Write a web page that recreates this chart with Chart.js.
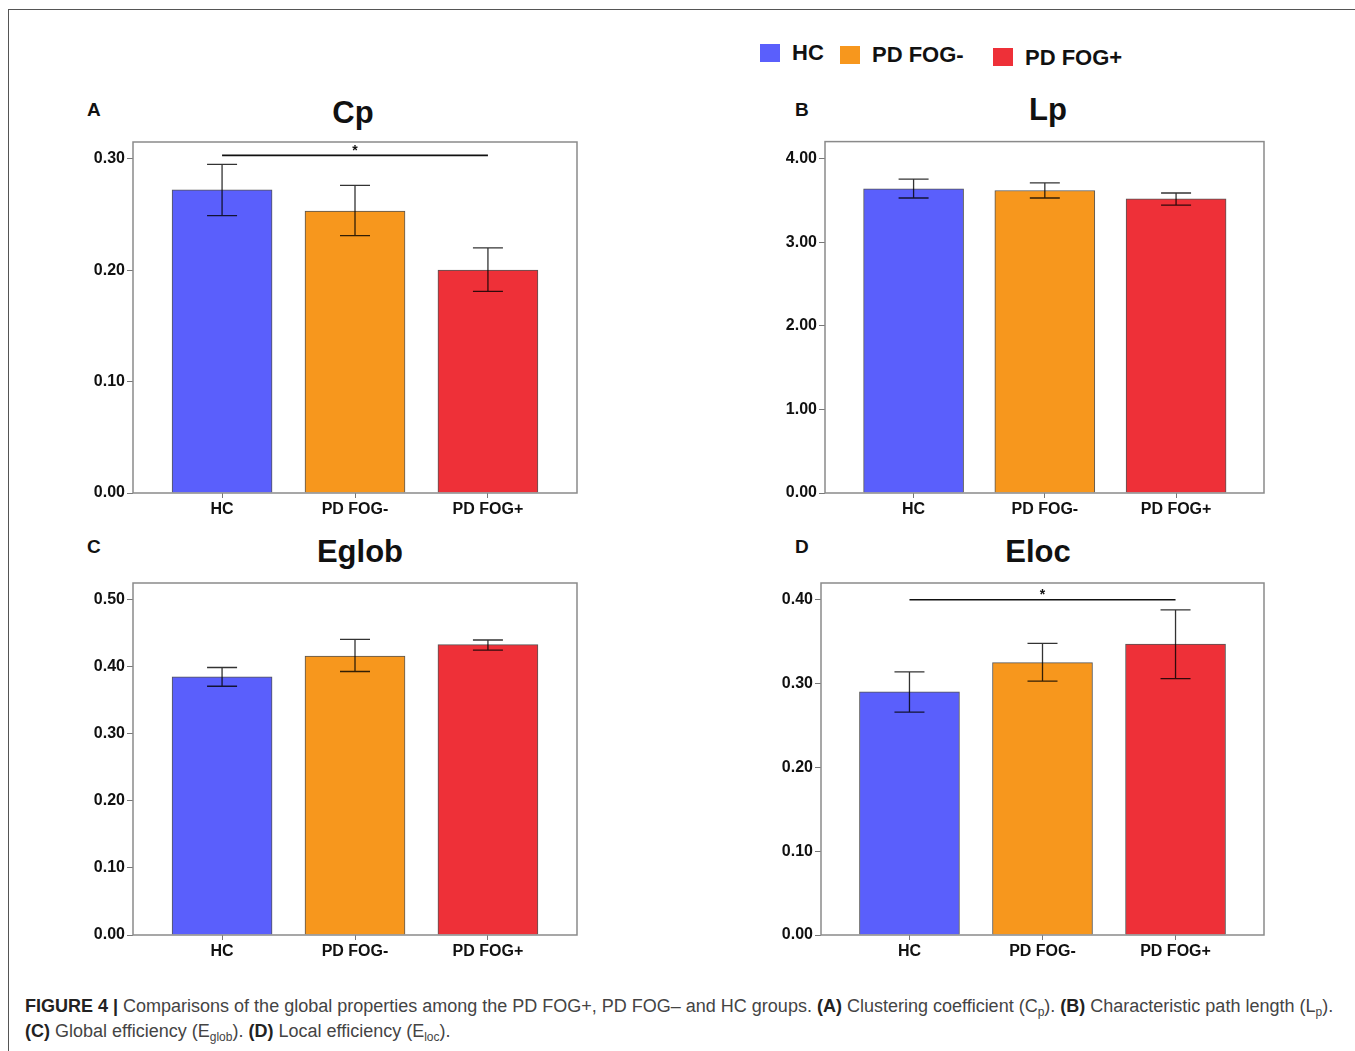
<!DOCTYPE html>
<html>
<head>
<meta charset="utf-8">
<script src="https://cdn.jsdelivr.net/npm/chart.js@4/dist/chart.umd.min.js"></script>
<style>
  body { margin: 0; background: #fff; font-family: "Liberation Sans", Arial, sans-serif; }
  #frame { position: absolute; left: 8px; top: 9px; width: 1400px; height: 1100px; border: 1px solid #555; }
  canvas { position: absolute; }
  .lbl { position: absolute; font-weight: bold; color: #111; white-space: nowrap; }
  .title { position: absolute; font-weight: bold; font-size: 31px; color: #111; transform: translateX(-50%); }
  .sq { position: absolute; width: 20px; height: 18px; }
  .leg { position: absolute; font-weight: bold; font-size: 22px; color: #111; }
  #caption { position: absolute; left: 25px; top: 994px; font-size: 18px; line-height: 25px; color: #444; white-space: nowrap; }
  #caption b { color: #222; }
  #caption sub { font-size: 12px; vertical-align: -4px; line-height: 0; }
</style>
</head>
<body>
<div id="frame"></div>

<!-- legend -->
<div class="sq" style="left:760px;top:44px;background:#5a5ffc"></div>
<div class="leg" style="left:792px;top:40px">HC</div>
<div class="sq" style="left:840px;top:46px;background:#f7971d"></div>
<div class="leg" style="left:872px;top:42px">PD FOG-</div>
<div class="sq" style="left:993px;top:48px;background:#ee3038"></div>
<div class="leg" style="left:1025px;top:45px">PD FOG+</div>

<!-- panel letters and titles -->
<div class="lbl" style="left:87px;top:99px;font-size:19px">A</div>
<div class="lbl" style="left:795px;top:99px;font-size:19px">B</div>
<div class="lbl" style="left:87px;top:536px;font-size:19px">C</div>
<div class="lbl" style="left:795px;top:536px;font-size:19px">D</div>
<div class="title" style="left:353px;top:95px">Cp</div>
<div class="title" style="left:1048px;top:92px">Lp</div>
<div class="title" style="left:360px;top:534px">Eglob</div>
<div class="title" style="left:1038px;top:534px">Eloc</div>

<canvas id="cpChart" width="540" height="400" style="left:60px;top:130px"></canvas>
<canvas id="lpChart" width="540" height="400" style="left:760px;top:130px"></canvas>
<canvas id="eglobChart" width="540" height="400" style="left:60px;top:570px"></canvas>
<canvas id="elocChart" width="540" height="400" style="left:760px;top:570px"></canvas>

<div id="caption"><b>FIGURE 4 |</b> Comparisons of the global properties among the PD FOG+, PD FOG– and HC groups. <b>(A)</b> Clustering coefficient (C<sub>p</sub>). <b>(B)</b> Characteristic path length (L<sub>p</sub>).<br><b>(C)</b> Global efficiency (E<sub>glob</sub>). <b>(D)</b> Local efficiency (E<sub>loc</sub>).</div>

<script>
// groups and colours
var groups = ['HC', 'PD FOG-', 'PD FOG+'];
var barColors = ['#5a5ffc', '#f7971d', '#ee3038'];

// Cp (A)
var cpMean = [0.272, 0.253, 0.200];
var cpLow  = [0.249, 0.231, 0.181];
var cpHigh = [0.295, 0.276, 0.220];
var cpTicks = [0, 0.1, 0.2, 0.3];
var cpSig = [0, 2, 0.303];

// Lp (B)
var lpMean = [3.64, 3.62, 3.52];
var lpLow  = [3.53, 3.53, 3.445];
var lpHigh = [3.755, 3.71, 3.59];
var lpTicks = [0, 1, 2, 3, 4];

// Eglob (C)
var eglobMean = [0.385, 0.416, 0.433];
var eglobLow  = [0.371, 0.393, 0.425];
var eglobHigh = [0.399, 0.441, 0.440];
var eglobTicks = [0, 0.1, 0.2, 0.3, 0.4, 0.5];

// Eloc (D)
var elocMean = [0.290, 0.325, 0.347];
var elocLow  = [0.266, 0.303, 0.306];
var elocHigh = [0.314, 0.348, 0.388];
var elocTicks = [0, 0.1, 0.2, 0.3, 0.4];
var elocSig = [0, 2, 0.400];

// draws box, error bars and significance line
var extrasPlugin = {
  id: 'extras',
  afterDatasetsDraw: function(chart, args, opts) {
    var ctx = chart.ctx;
    var a = chart.chartArea;
    var xs = chart.scales.x, ys = chart.scales.y;
    ctx.save();
    ctx.strokeStyle = '#8a8a8a';
    ctx.lineWidth = 1.5;
    ctx.strokeRect(a.left, a.top, a.right - a.left, a.bottom - a.top);

    ctx.strokeStyle = 'rgba(0,0,0,0.8)';
    ctx.lineWidth = 1.3;
    for (var i = 0; i < opts.low.length; i++) {
      var x = xs.getPixelForValue(i);
      var y1 = ys.getPixelForValue(opts.low[i]);
      var y2 = ys.getPixelForValue(opts.high[i]);
      ctx.beginPath();
      ctx.moveTo(x, y1); ctx.lineTo(x, y2);
      ctx.moveTo(x - 15, y1); ctx.lineTo(x + 15, y1);
      ctx.moveTo(x - 15, y2); ctx.lineTo(x + 15, y2);
      ctx.stroke();
    }
    if (opts.sig) {
      var sx1 = xs.getPixelForValue(opts.sig[0]);
      var sx2 = xs.getPixelForValue(opts.sig[1]);
      var sy = ys.getPixelForValue(opts.sig[2]);
      ctx.strokeStyle = '#111';
      ctx.lineWidth = 1.6;
      ctx.beginPath();
      ctx.moveTo(sx1, sy); ctx.lineTo(sx2, sy);
      ctx.stroke();
      ctx.fillStyle = '#111';
      ctx.font = 'bold 14px "Liberation Sans", Arial';
      ctx.textAlign = 'center';
      ctx.textBaseline = 'alphabetic';
      ctx.fillText('*', (sx1 + sx2) / 2, sy - 0.5);
    }
    ctx.restore();
  }
};

function makePanel(id, means, low, high, ticks, yMax, xMin, xMax, pad, yWidth, xHeight, sig) {
  return new Chart(document.getElementById(id), {
    type: 'bar',
    data: {
      datasets: [{
        data: means.map(function(v, i) { return {x: i, y: v}; }),
        backgroundColor: barColors,
        borderColor: '#555',
        borderWidth: 1,
        barThickness: 100
      }]
    },
    options: {
      responsive: false,
      animation: false,
      devicePixelRatio: 1,
      layout: { padding: { left: 0, top: pad.top, right: pad.right, bottom: 0 } },
      plugins: {
        legend: { display: false },
        tooltip: { enabled: false },
        extras: { low: low, high: high, sig: sig }
      },
      scales: {
        x: {
          type: 'linear',
          offset: false,
          min: xMin, max: xMax,
          afterBuildTicks: function(s) { s.ticks = groups.map(function(g, i) { return {value: i}; }); },
          afterFit: function(s) { s.height = xHeight; },
          border: { display: false },
          grid: { offset: false, drawOnChartArea: false, drawTicks: true, tickLength: 5, color: '#777' },
          ticks: {
            padding: 2,
            color: '#111',
            font: { family: '"Liberation Sans", Arial', size: 16, weight: 'bold' },
            callback: function(v) { return groups[v]; }
          }
        },
        y: {
          min: 0, max: yMax,
          afterBuildTicks: function(s) { s.ticks = ticks.map(function(v) { return {value: v}; }); },
          afterFit: function(s) { s.width = yWidth; },
          border: { display: false },
          grid: { drawOnChartArea: false, drawTicks: true, tickLength: 6, color: '#777' },
          ticks: {
            padding: 2,
            color: '#111',
            font: { family: '"Liberation Sans", Arial', size: 16, weight: 'bold' },
            callback: function(v) { return v.toFixed(2); }
          }
        }
      }
    },
    plugins: [extrasPlugin]
  });
}

makePanel('cpChart', cpMean, cpLow, cpHigh, cpTicks, 0.315, -0.67, 2.67, {top: 12, right: 23}, 73, 37, cpSig);
makePanel('lpChart', lpMean, lpLow, lpHigh, lpTicks, 4.205, -0.675, 2.67, {top: 11, right: 36}, 65, 37, null);
makePanel('eglobChart', eglobMean, eglobLow, eglobHigh, eglobTicks, 0.525, -0.67, 2.67, {top: 13, right: 23}, 73, 35, null);
makePanel('elocChart', elocMean, elocLow, elocHigh, elocTicks, 0.42, -0.665, 2.665, {top: 13, right: 36}, 61, 35, elocSig);
</script>
</body>
</html>
